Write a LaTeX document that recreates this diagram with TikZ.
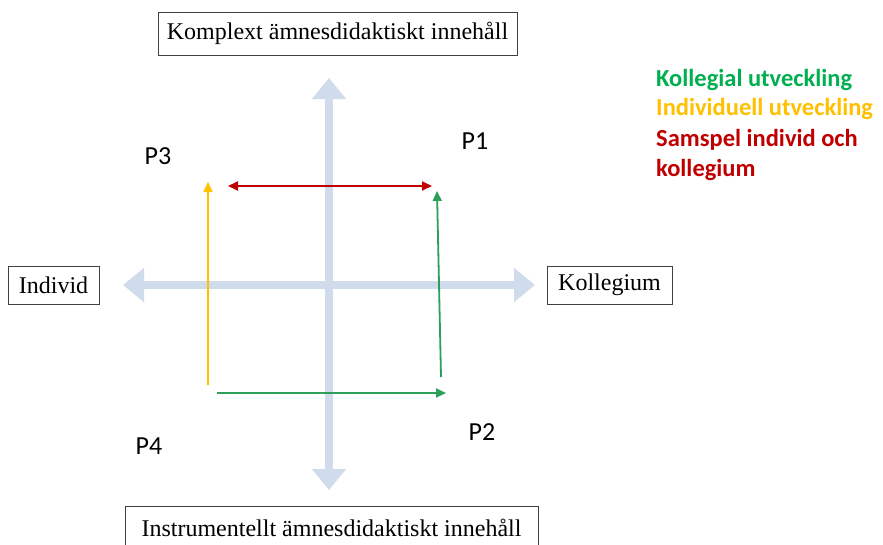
\documentclass[tikz,border=0pt]{standalone}
\usepackage{fontspec}
\setmainfont{Liberation Serif}
\newfontfamily\calib{Carlito}
\usetikzlibrary{arrows.meta}
\definecolor{axisblue}{HTML}{D0DBEB}
\definecolor{kgreen}{HTML}{00B050}
\definecolor{lgreen}{HTML}{2E9E5B}
\definecolor{iyellow}{HTML}{FFC000}
\definecolor{sred}{HTML}{C00000}
\tikzset{
  labelbox/.style={draw=black!75, line width=0.8pt, fill=white, font=\fontsize{24}{27}\selectfont, inner sep=0pt, anchor=center},
  axisarrow/.style={draw=axisblue, line width=8pt, -{Triangle[length=21pt,width=33pt]}},
  plabel/.style={font=\calib\fontsize{26}{30}\selectfont, inner sep=0pt},
  legend/.style={font=\calib\bfseries\fontsize{24.5}{30}\selectfont, inner sep=0pt, anchor=west},
  thinarrow/.style={line width=1.8pt, -{Triangle[length=10pt,width=9pt]}},
}
\begin{document}
\begin{tikzpicture}[x=1pt,y=-1pt]
\useasboundingbox[fill=white] (0,0) rectangle (883,544);
% axes
\coordinate (c) at (329,285);
\coordinate (ttop) at (329,78);
\coordinate (tbot) at (329,490);
\coordinate (tleft) at (123,285);
\coordinate (tright) at (535,285);
\draw[axisarrow] (c) -- (ttop);
\draw[axisarrow] (c) -- (tbot);
\draw[axisarrow] (c) -- (tleft);
\draw[axisarrow] (c) -- (tright);
% boxes
\node[labelbox, minimum width=359pt, minimum height=43pt] (top) at (337.5,33.5) {Komplext ämnesdidaktiskt innehåll};
\node[labelbox, minimum width=413pt, minimum height=43pt] (bot) at (331.5,527.5) {Instrumentellt ämnesdidaktiskt innehåll};
\node[labelbox, minimum width=91pt, minimum height=38pt] (ind) at (53.5,285) {Individ};
\node[labelbox, minimum width=125pt, minimum height=38pt] (kol) at (609.5,285) {Kollegium};
% colored arrows
\coordinate (ra) at (228,186);
\coordinate (rb) at (432,186);
\draw[thinarrow, sred, {Triangle[length=10pt,width=9pt]}-{Triangle[length=10pt,width=9pt]}] (ra) -- (rb);
\coordinate (gva) at (441,377);
\coordinate (gvb) at (437,191);
\draw[thinarrow, lgreen] (gva) -- (gvb);
\coordinate (yva) at (208,385);
\coordinate (yvb) at (208,182);
\draw[thinarrow, iyellow] (yva) -- (yvb);
\coordinate (gha) at (217,393);
\coordinate (ghb) at (446,393);
\draw[thinarrow, lgreen] (gha) -- (ghb);
% P labels
\node[plabel] (p1) at (475,141) {P1};
\node[plabel] (p2) at (482,432) {P2};
\node[plabel] (p3) at (158,156) {P3};
\node[plabel] (p4) at (149,446) {P4};
% legend
\node[legend, text=kgreen] (l1) at (656,80) {Kollegial utveckling};
\node[legend, text=iyellow] (l2) at (656,109) {Individuell utveckling};
\node[legend, text=sred, align=left] (l3) at (656,155) {Samspel individ och\\kollegium};
\end{tikzpicture}
\end{document}
